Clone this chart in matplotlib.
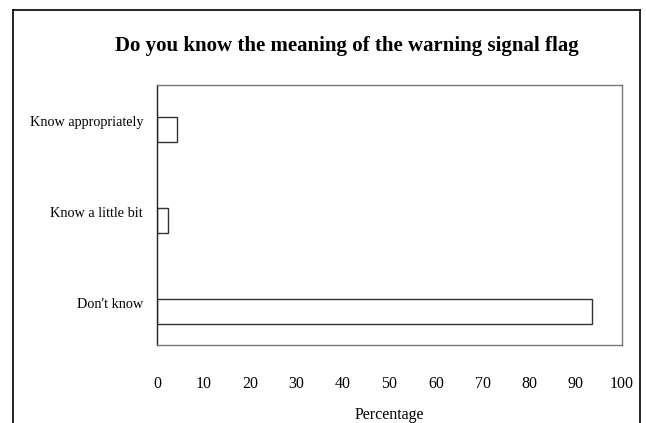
import matplotlib.pyplot as plt
from matplotlib.lines import Line2D
from matplotlib.transforms import ScaledTranslation

# datos
categorias = ["Don't know", "Know a little bit", "Know appropriately"]
porcentajes = [93.5, 2.3, 4.4]
ticks_x = [0, 10, 20, 30, 40, 50, 60, 70, 80, 90, 100]

plt.rcParams['font.family'] = ['Liberation Serif', 'DejaVu Serif']

W, H = 646, 423
fig = plt.figure(figsize=(W / 100, H / 100), dpi=100)

# area del grafico en pixeles
izq, der, arriba, abajo = 157, 622, 85, 345
ax = fig.add_axes([izq / W, 1 - abajo / H, (der - izq) / W, (abajo - arriba) / H])

pos = list(range(len(categorias)))
ax.barh(pos, porcentajes, height=0.27, color='white', edgecolor='#333333', linewidth=1)

ax.set_xlim(0, 100)
ax.set_ylim(-0.368, 2.489)
ax.set_xticks(ticks_x)
ax.set_xticklabels([str(t) for t in ticks_x], fontsize=11.5)
ax.set_yticks(pos)
ax.set_yticklabels(categorias, fontsize=10.3)
ax.tick_params(axis='both', length=0)
ax.tick_params(axis='x', pad=22)
ax.tick_params(axis='y', pad=10)

# subir un poco las etiquetas de categoria
desplazar = ScaledTranslation(0, 9 / 100, fig.dpi_scale_trans)
for lbl in ax.get_yticklabels():
    lbl.set_transform(lbl.get_transform() + desplazar)

for lado in ['top', 'right', 'bottom']:
    ax.spines[lado].set_color('#777777')
ax.spines['left'].set_color('#222222')
for s in ax.spines.values():
    s.set_linewidth(1)

ax.set_xlabel('Percentage', fontsize=11.5, labelpad=11)

fig.text(347 / W, 1 - 46 / H, 'Do you know the meaning of the warning signal flag',
         ha='center', va='center', fontsize=15, fontweight='bold')

# marco exterior
x0, x1, y0 = 13 / W, 640 / W, 1 - 10 / H
fig.add_artist(Line2D([x0, x0], [-0.1, y0], color='black', linewidth=1.2))
fig.add_artist(Line2D([x0, x1], [y0, y0], color='black', linewidth=1.2))
fig.add_artist(Line2D([x1, x1], [-0.1, y0], color='black', linewidth=1.2))

fig.savefig('out.png', dpi=100)
